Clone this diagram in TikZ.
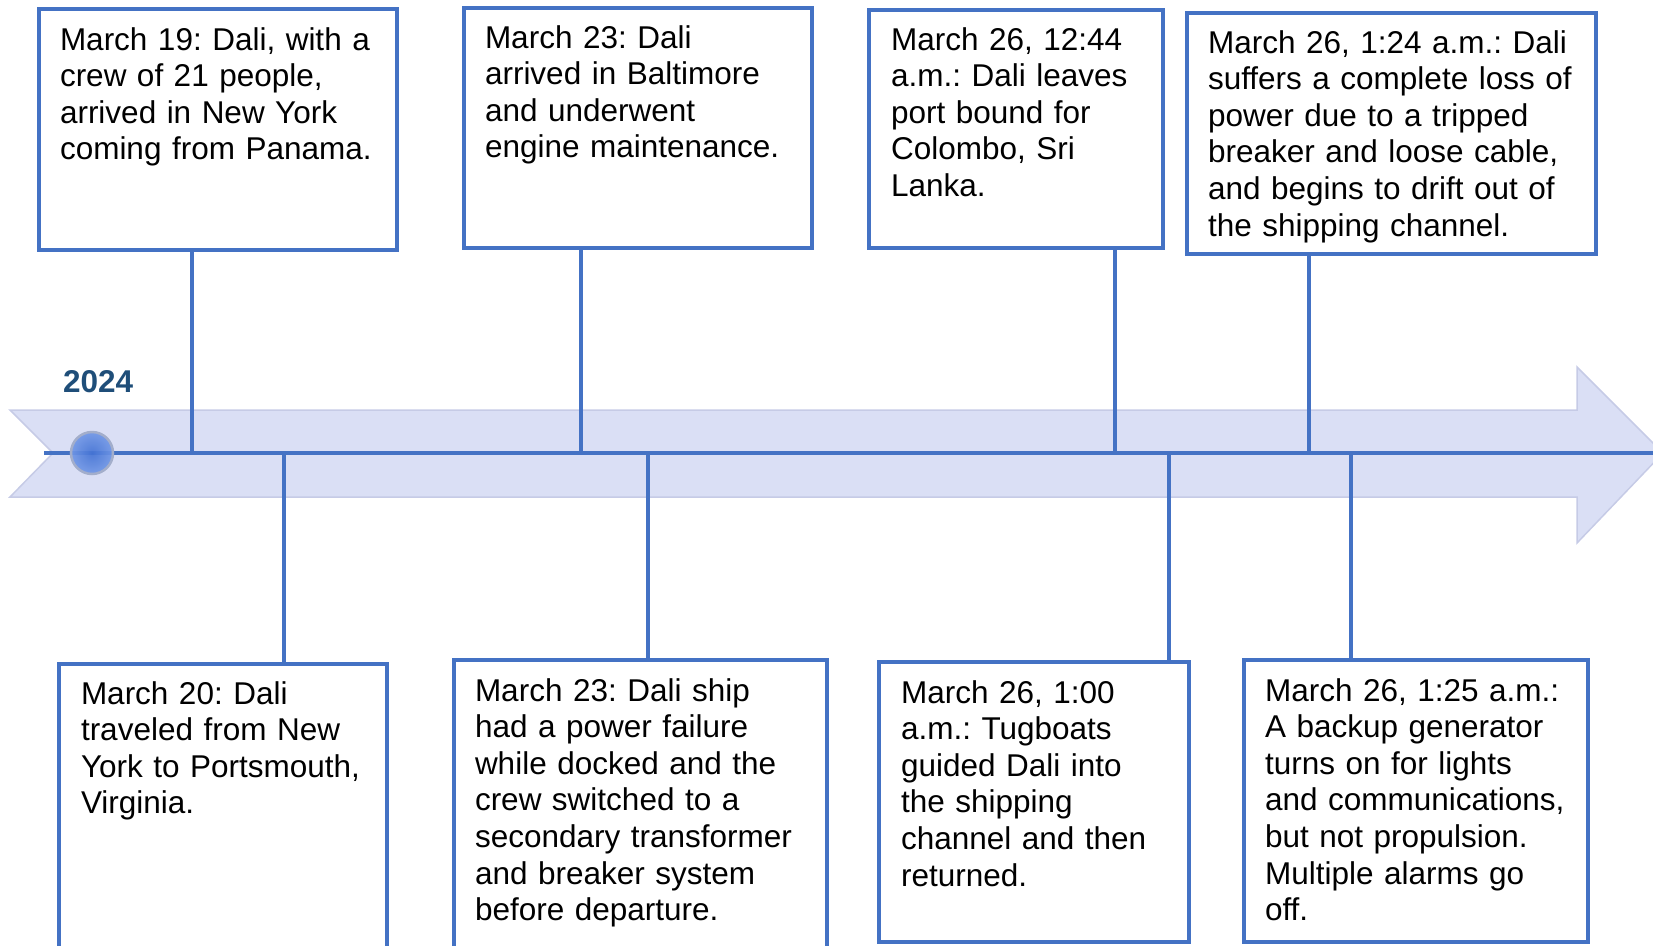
\documentclass[tikz,border=0pt]{standalone}
\usepackage{fontspec}
\setmainfont{Liberation Sans}
\frenchspacing
\definecolor{lineblue}{HTML}{4472C4}
\definecolor{arrowfill}{HTML}{DADFF5}
\definecolor{arrowedge}{HTML}{C6CBE6}
\definecolor{yearblue}{HTML}{1F4E79}
\definecolor{dotin}{HTML}{4473D4}
\definecolor{dotout}{HTML}{7197E6}
\definecolor{dotrim}{HTML}{A3AECB}
\begin{document}
\begin{tikzpicture}[x=1pt,y=-1pt,
  box/.style={draw=lineblue,line width=3.5pt,fill=white,rectangle,inner sep=0pt,outer sep=0pt,anchor=north west},
  txt/.style={anchor=base west,inner sep=0pt,outer sep=0pt,text width=380pt,align=left,
    font=\fontsize{31.5}{36.6}\selectfont},
  conn/.style={draw=lineblue,line width=4pt}]
\useasboundingbox (0,0) rectangle (1653,945);
% arrow band
\fill[arrowfill,draw=arrowedge,line width=1.5pt]
  (10,410) -- (1577,410) -- (1577,367) -- (1663,453) -- (1577,543) -- (1577,497) -- (10,497) -- (53,453) -- cycle;
% timeline
\coordinate (tl0) at (44,453);
\coordinate (tl1) at (1653,453);
\draw[conn] (tl0) -- (tl1);
% connector points
\coordinate (c1) at (192,453);
\coordinate (c2) at (581,453);
\coordinate (c3) at (1115,453);
\coordinate (c4) at (1309,453);
\coordinate (d1) at (284,453);
\coordinate (d2) at (648,453);
\coordinate (d3) at (1169,453);
\coordinate (d4) at (1351,453);
% boxes
\node[box,minimum width=358pt,minimum height=241pt] (b1) at (39,9) {};
\node[box,minimum width=348pt,minimum height=240pt] (b2) at (464,8) {};
\node[box,minimum width=294pt,minimum height=238pt] (b3) at (869,10) {};
\node[box,minimum width=409pt,minimum height=241pt] (b4) at (1187,13) {};
\node[box,minimum width=328pt,minimum height=290pt] (b5) at (59,664) {};
\node[box,minimum width=373pt,minimum height=290pt] (b6) at (454,660) {};
\node[box,minimum width=310pt,minimum height=280pt] (b7) at (879,662) {};
\node[box,minimum width=344pt,minimum height=282pt] (b8) at (1244,660) {};
% connectors
\draw[conn] (b1.south -| c1) -- (c1);
\draw[conn] (b2.south -| c2) -- (c2);
\draw[conn] (b3.south -| c3) -- (c3);
\draw[conn] (b4.south -| c4) -- (c4);
\draw[conn] (d1) -- (d1 |- b5.north);
\draw[conn] (d2) -- (d2 |- b6.north);
\draw[conn] (d3) -- (d3 |- b7.north);
\draw[conn] (d4) -- (d4 |- b8.north);
% start dot
\node[circle,minimum size=42pt,inner sep=0pt,draw=dotrim,line width=2.5pt,
  inner color=dotin,outer color=dotout,fill opacity=0.92] (dot) at (92,453) {};
% year
\node[anchor=base west,inner sep=0pt,text=yearblue,font=\fontsize{31.5}{36}\selectfont\bfseries] (year) at (63,392) {2024};
% texts
\node[txt] (t1) at (60,50) {March 19: Dali, with a\\crew of 21 people,\\arrived in New York\\coming from Panama.};
\node[txt] (t2) at (485,48) {March 23: Dali\\arrived in Baltimore\\and underwent\\engine maintenance.};
\node[txt] (t3) at (891,50) {March 26, 12:44\\a.m.: Dali leaves\\port bound for\\Colombo, Sri\\Lanka.};
\node[txt] (t4) at (1208,53) {March 26, 1:24 a.m.: Dali\\suffers a complete loss of\\power due to a tripped\\breaker and loose cable,\\and begins to drift out of\\the shipping channel.};
\node[txt] (t5) at (81,704) {March 20: Dali\\traveled from New\\York to Portsmouth,\\Virginia.};
\node[txt] (t6) at (475,701) {March 23: Dali ship\\had a power failure\\while docked and the\\crew switched to a\\secondary transformer\\and breaker system\\before departure.};
\node[txt] (t7) at (901,703) {March 26, 1:00\\a.m.: Tugboats\\guided Dali into\\the shipping\\channel and then\\returned.};
\node[txt] (t8) at (1265,701) {March 26, 1:25 a.m.:\\A backup generator\\turns on for lights\\and communications,\\but not propulsion.\\Multiple alarms go\\off.};
\end{tikzpicture}
\end{document}
